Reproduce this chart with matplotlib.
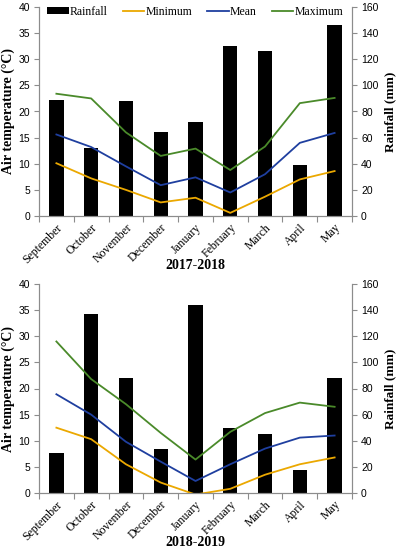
import numpy as np
import matplotlib.pyplot as plt

months = ['September', 'October', 'November', 'December', 'January',
          'February', 'March', 'April', 'May']

# 2017-2018
rain_1 = [89, 52, 88, 64, 72, 130, 126.5, 39, 146]
tmin_1 = [10.1, 7.2, 5.0, 2.6, 3.5, 0.6, 3.7, 7.0, 8.6]
tmean_1 = [15.6, 13.2, 9.5, 5.9, 7.4, 4.5, 8.0, 14.0, 15.9]
tmax_1 = [23.4, 22.5, 16.0, 11.5, 12.9, 8.8, 13.3, 21.6, 22.6]

# 2018-2019
rain_2 = [31, 137, 88, 34, 144, 50, 45.5, 17.6, 88]
tmin_2 = [12.5, 10.3, 5.5, 2.0, -0.3, 0.8, 3.5, 5.5, 6.8]
tmean_2 = [18.9, 15.0, 9.8, 6.0, 2.3, 5.5, 8.5, 10.6, 11.0]
tmax_2 = [29.0, 21.8, 17.0, 11.5, 6.4, 11.7, 15.3, 17.3, 16.5]

c_min = '#EBA800'
c_mean = '#1F3F9F'
c_max = '#4A8A2A'
grey = '#8C8C8C'

plt.rcParams['font.family'] = 'Liberation Serif'

fig = plt.figure(figsize=(3.98, 5.5), dpi=100)

def panel(rect, rain, tmin, tmean, tmax, title, title_y, legend):
    ax = fig.add_axes(rect)
    ax2 = ax.twinx()
    x = np.arange(len(months))
    b = ax2.bar(x, rain, 0.41, color='black', label='Rainfall', zorder=1)
    l1, = ax.plot(x, tmin, color=c_min, lw=1.3, label='Minimum')
    l2, = ax.plot(x, tmean, color=c_mean, lw=1.3, label='Mean')
    l3, = ax.plot(x, tmax, color=c_max, lw=1.3, label='Maximum')
    ax.set_zorder(ax2.get_zorder() + 1)
    ax.patch.set_visible(False)

    ax.set_xlim(-0.5, len(months) - 0.5)
    ax.set_ylim(0, 40)
    ax2.set_ylim(0, 160)
    ax.set_yticks(np.arange(0, 41, 5))
    ax2.set_yticks(np.arange(0, 161, 20))
    ax.set_xticks(np.arange(-0.5, len(months), 1), minor=False)
    ax.set_xticklabels([])
    ax.set_xticks(x, minor=True)
    ax.set_xticklabels(months, minor=True, rotation=45, ha='right',
                       rotation_mode='anchor', fontsize=8.5)
    ax.tick_params(axis='x', which='minor', length=0, pad=4)
    ax.tick_params(axis='x', which='major', length=4, color=grey, direction='out')
    for a in (ax, ax2):
        a.tick_params(axis='y', length=3.5, color=grey, labelsize=7.5, pad=3)
        for lab in a.get_yticklabels():
            lab.set_family('Liberation Sans')
        a.spines['top'].set_visible(False)
        for s in ('left', 'right', 'bottom'):
            a.spines[s].set_color(grey)
    ax.set_ylabel('Air temperature (°C)', fontsize=10, fontweight='bold')
    ax.yaxis.set_label_coords(-0.078, 0.5)
    ax2.set_ylabel('Rainfall (mm)', fontsize=9.5, fontweight='bold')
    ax2.yaxis.set_label_coords(1.104, 0.5)
    ax.text(0.5, title_y, title, transform=ax.transAxes, ha='center', va='center',
            fontsize=10, fontweight='bold')
    if legend:
        ax.legend([b, l1, l2, l3], ['Rainfall', 'Minimum', 'Mean', 'Maximum'],
                  ncol=4, loc='upper left', bbox_to_anchor=(0.0, 1.045),
                  frameon=False, fontsize=8.5, handlelength=1.8,
                  handletextpad=0.1, columnspacing=1.3, handleheight=0.6,
                  borderpad=0.2)
    return ax

panel([39 / 398, 1 - 216 / 550, 313 / 398, 209 / 550],
      rain_1, tmin_1, tmean_1, tmax_1, '2017-2018', -0.235, True)
panel([39 / 398, 1 - 493 / 550, 313 / 398, 209 / 550],
      rain_2, tmin_2, tmean_2, tmax_2, '2018-2019', -0.238, False)

fig.savefig('out.png', dpi=100)
